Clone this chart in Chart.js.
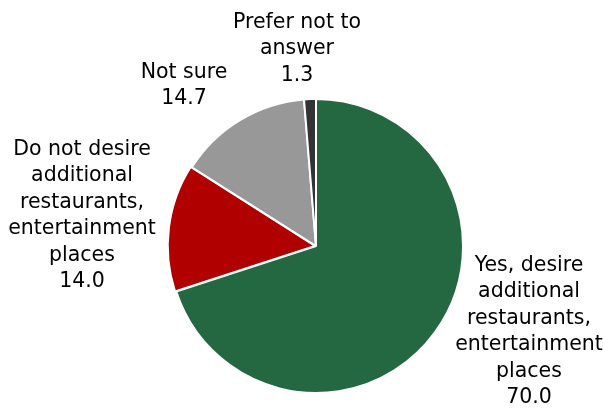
<!DOCTYPE html>
<html>
<head>
<meta charset="utf-8">
<script src="https://cdn.jsdelivr.net/npm/chart.js@4.4.1/dist/chart.umd.min.js"></script>
<style>
  html, body { margin: 0; padding: 0; background: #fff; }
  #wrap { width: 603px; height: 408px; }
</style>
</head>
<body>
<div id="wrap"><canvas id="pieChart"></canvas></div>
<script>
// data
const categories = [
    ['Yes, desire', 'additional', 'restaurants,', 'entertainment', 'places'],
    ['Do not desire', 'additional', 'restaurants,', 'entertainment', 'places'],
    ['Not sure'],
    ['Prefer not to', 'answer']
];
const shares = [70.0, 14.0, 14.7, 1.3];
const sliceColors = ['#236841', '#b00000', '#989898', '#333333'];

// where each label sits, relative to the pie centre (first baseline)
const labelOffsets = [
    { dx: 213, dy: 25 },
    { dx: -234, dy: -91 },
    { dx: -132, dy: -168 },
    { dx: -19, dy: -218 }
];

const outsideLabels = {
    id: 'outsideLabels',
    afterDatasetsDraw(chart) {
        const ctx = chart.ctx;
        const arcs = chart.getDatasetMeta(0).data;
        ctx.save();
        ctx.font = '20.5px "DejaVu Sans"';
        ctx.fillStyle = '#000';
        ctx.textAlign = 'center';
        ctx.textBaseline = 'alphabetic';
        arcs.forEach((arc, i) => {
            const lines = categories[i].concat([shares[i].toFixed(1)]);
            const x = chart.chartArea.left + chart.chartArea.width / 2 + labelOffsets[i].dx;
            let y = chart.chartArea.top + chart.chartArea.height / 2 + labelOffsets[i].dy;
            lines.forEach(t => {
                ctx.fillText(t, x, y);
                y += 26.4;
            });
        });
        ctx.restore();
    }
};

new Chart(document.getElementById('pieChart'), {
    type: 'pie',
    data: {
        labels: categories,
        datasets: [{
            data: shares,
            backgroundColor: sliceColors,
            borderColor: '#fff',
            borderWidth: 2,
            hoverOffset: 0,
            offset: [0, 4, 0, 0]
        }]
    },
    options: {
        responsive: true,
        maintainAspectRatio: false,
        animation: false,
        radius: 147,
        layout: { padding: { left: 29, right: 0, top: 84, bottom: 0 } },
        plugins: {
            legend: { display: false },
            tooltip: { enabled: false }
        }
    },
    plugins: [outsideLabels]
});
</script>
</body>
</html>
